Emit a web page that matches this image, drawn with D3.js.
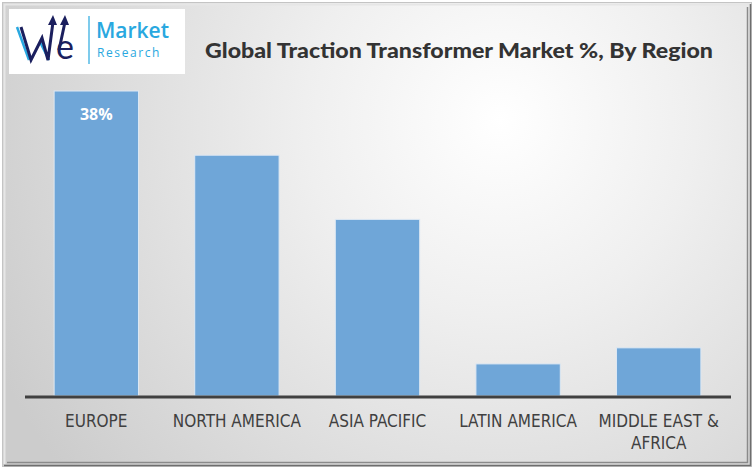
<!DOCTYPE html>
<html><head><meta charset="utf-8">
<script src="https://cdn.jsdelivr.net/npm/d3@7"></script>
<style>html,body{margin:0;padding:0;background:#fff;}svg{display:block;}</style>
</head><body>
<script>
const categories = ["EUROPE","NORTH AMERICA","ASIA PACIFIC","LATIN AMERICA","MIDDLE EAST &\nAFRICA"];
const values = [38, 30, 22, 4, 6];
const valueLabels = ["38%", "", "", "", ""];
const title = "Global Traction Transformer Market %, By Region";

const W = 755, H = 471;
const svg = d3.select("body").append("svg").attr("width", W).attr("height", H);
const defs = svg.append("defs");
const rg = defs.append("radialGradient").attr("id","bg").attr("gradientUnits","userSpaceOnUse")
  .attr("cx", 500).attr("cy", 120).attr("r", 560);
rg.append("stop").attr("offset","0%").attr("stop-color","#ffffff");
rg.append("stop").attr("offset","35%").attr("stop-color","#efefef");
rg.append("stop").attr("offset","100%").attr("stop-color","#cccccc");

// frame
svg.append("rect").attr("x",2).attr("y",2).attr("width",750).attr("height",465).attr("fill","url(#bg)");
svg.append("rect").attr("x",2.5).attr("y",2.5).attr("width",749).attr("height",464).attr("fill","none").attr("stroke","#c4c4c4").attr("stroke-width",1);
svg.append("path").attr("d","M4.5,464 V4.5 H750").attr("fill","none").attr("stroke","#e6e6e6").attr("stroke-width",2);
svg.append("path").attr("d","M7,462.5 H747.5 V7").attr("fill","none").attr("stroke","#8a8a8a").attr("stroke-width",1.5);
svg.append("path").attr("d","M4,465.5 H750.5 V4").attr("fill","none").attr("stroke","#6e6e6e").attr("stroke-width",1.5);

// logo
const logo = svg.append("g");
logo.append("rect").attr("x",9).attr("y",9).attr("width",176).attr("height",65).attr("fill","#ffffff");
logo.append("path").attr("d","M17,27 L29,60 M40,42 L49,60").attr("stroke","#29a8e0").attr("stroke-width",2.5).attr("fill","none");
logo.append("path").attr("d","M21,27 L31,60 L42,38 L48,60 L53,22 M59,50 L65,22").attr("stroke","#1b1f5e").attr("stroke-width",3).attr("fill","none").attr("stroke-linejoin","miter");
logo.append("path").attr("d","M48,25 L53,15 L57,25 Z M60,25 L65,15 L69,25 Z").attr("fill","#1b1f5e");
logo.append("text").attr("x",56).attr("y",59).text("e").attr("font-family","Lato, sans-serif").attr("font-size",34).attr("fill","#1b1f5e");
logo.append("line").attr("x1",89).attr("x2",89).attr("y1",16).attr("y2",64).attr("stroke","#29a8e0").attr("stroke-width",1.2);
logo.append("text").attr("x",96).attr("y",38).text("Market").attr("font-family","'Open Sans', sans-serif").attr("font-weight","600").attr("font-size",21).attr("fill","#29a8e0");
logo.append("text").attr("x",97).attr("y",57).text("Research").attr("font-family","'Open Sans', sans-serif").attr("font-size",12).attr("letter-spacing","1.6").attr("fill","#29a8e0");

// title
svg.append("text").attr("x",205).attr("y",58).text(title)
  .attr("font-family","Lato, 'Open Sans', sans-serif").attr("font-weight","900").attr("font-size",21)
  .attr("fill","#333333").attr("textLength",508).attr("lengthAdjust","spacingAndGlyphs");

// scales
const x = d3.scaleBand().domain(categories).range([26, 729]).paddingInner(0.4).paddingOuter(0.2);
const y = d3.scaleLinear().domain([0, 38]).range([396, 91]);

svg.append("g").selectAll("rect").data(values).join("rect")
  .attr("x",(d,i)=>x(categories[i])).attr("width",x.bandwidth())
  .attr("y",d=>y(d)).attr("height",d=>y(0)-y(d))
  .attr("fill","#6fa6d8").attr("stroke","#dde8f3").attr("stroke-width",1);

svg.append("g").selectAll("text").data(valueLabels).join("text")
  .attr("x",(d,i)=>x(categories[i])+x.bandwidth()/2).attr("y",(d,i)=>y(values[i])+29)
  .attr("text-anchor","middle").attr("fill","#ffffff").attr("font-weight","bold")
  .attr("font-family","'Open Sans', sans-serif").attr("font-size",16).text(d=>d);

// axis
const axis = d3.axisBottom(x).tickSize(0).tickFormat("");
const ag = svg.append("g").attr("transform","translate(0,397)").call(axis);
ag.select(".domain").attr("stroke","#404040").attr("stroke-width",3).attr("d","M25,0H731");

const lab = svg.append("g").selectAll("text").data(categories).join("text")
  .attr("x",d=>x(d)+x.bandwidth()/2).attr("y",427).attr("text-anchor","middle")
  .attr("font-family","'Liberation Sans Narrow', 'DejaVu Sans Condensed', sans-serif")
  .attr("font-size",17).attr("fill","#404040");
lab.each(function(d){
  const parts = d.split("\n");
  const t = d3.select(this);
  parts.forEach((p,j)=>t.append("tspan").attr("x",x(d)+x.bandwidth()/2).attr("dy",j?22:0).text(p));
});
</script>
</body></html>
